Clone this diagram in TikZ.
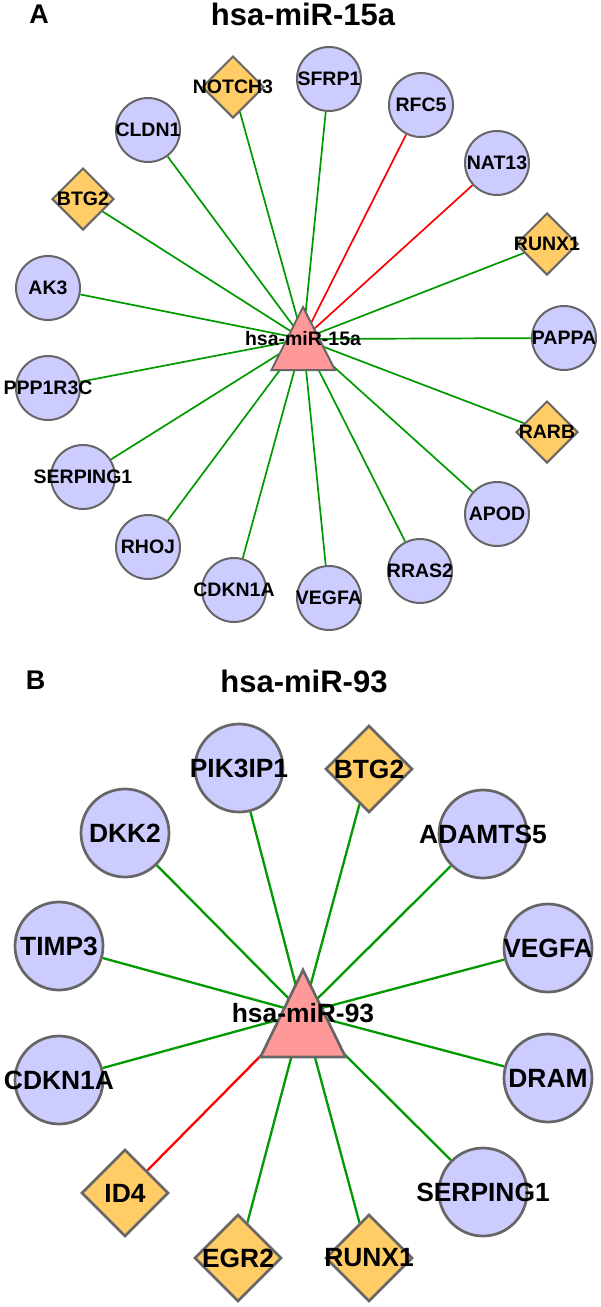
\documentclass[tikz,border=0pt]{standalone}
\usepackage{fontspec}
\setmainfont{Liberation Sans}
\usetikzlibrary{shapes.geometric,backgrounds}
\definecolor{egreen}{RGB}{0,153,0}
\definecolor{ered}{RGB}{255,0,0}
\definecolor{outl}{RGB}{102,102,102}
\definecolor{cfill}{RGB}{204,204,255}
\definecolor{dfill}{RGB}{255,204,102}
\definecolor{tfill}{RGB}{255,153,153}
\newcommand\zerow[1]{\makebox[0pt]{#1}}
\newcommand\fontA{\fontsize{19.5}{20}\selectfont\bfseries}
\newcommand\fontB{\fontsize{26.4}{27}\selectfont\bfseries}
\newcommand\fontT{\fontsize{31}{32}\selectfont\bfseries}
\newcommand\fontL{\fontsize{27}{28}\selectfont\bfseries}
\tikzset{
  circA/.style={circle, draw=outl, fill=cfill, line width=2pt, minimum size=64pt, inner sep=0pt, font=\fontA},
  diaA/.style={diamond, draw=outl, fill=dfill, line width=2pt, minimum width=62pt, minimum height=62pt, inner sep=0pt, font=\fontA},
  circB/.style={circle, draw=outl, fill=cfill, line width=2.7pt, minimum size=88pt, inner sep=0pt, font=\fontB},
  diaB/.style={diamond, draw=outl, fill=dfill, line width=2.7pt, minimum width=87pt, minimum height=87pt, inner sep=0pt, font=\fontB},
  gA/.style={draw=egreen, line width=1.7pt},
  rA/.style={draw=ered, line width=1.7pt},
  gB/.style={draw=egreen, line width=2.3pt},
  rB/.style={draw=ered, line width=2.3pt},
  triA/.style={fill=tfill, draw=outl, line width=2pt, line join=miter},
  triB/.style={fill=tfill, draw=outl, line width=2.7pt, line join=miter},
  ttl/.style={font=\fontT, inner sep=0pt},
  plbl/.style={font=\fontL, inner sep=0pt},
  clabA/.style={font=\fontA, inner sep=0pt},
  clabB/.style={font=\fontB, inner sep=0pt},
}
\begin{document}
\begin{tikzpicture}[x=1pt,y=-1pt]
\useasboundingbox (0,0) rectangle (600,1307);
% ---------- Panel A ----------
\node[plbl] (pA) at (39,14) {A};
\node[ttl] (tA) at (303,14) {hsa-miR-15a};
\coordinate (cA) at (303,339);
\node[circA] (a1) at (329,79) {\zerow{SFRP1}};
\node[circA] (a2) at (421,105) {\zerow{RFC5}};
\node[circA] (a3) at (497,163) {\zerow{NAT13}};
\node[diaA] (a4) at (547,244) {\zerow{RUNX1}};
\node[circA] (a5) at (564,338) {\zerow{PAPPA}};
\node[diaA] (a6) at (547,432) {\zerow{RARB}};
\node[circA] (a7) at (497,514) {\zerow{APOD}};
\node[circA] (a8) at (420,571) {\zerow{RRAS2}};
\node[circA] (a9) at (329,598) {\zerow{VEGFA}};
\node[circA] (a10) at (234,590) {\zerow{CDKN1A}};
\node[circA] (a11) at (148,547) {\zerow{RHOJ}};
\node[circA] (a12) at (83,477) {\zerow{SERPING1}};
\node[circA] (a13) at (48,388) {\zerow{PPP1R3C}};
\node[circA] (a14) at (48,288) {\zerow{AK3}};
\node[diaA] (a15) at (83,199) {\zerow{BTG2}};
\node[circA] (a16) at (148,130) {\zerow{CLDN1}};
\node[diaA] (a17) at (233,87) {\zerow{NOTCH3}};
\begin{scope}[on background layer]
  \draw[gA] (cA) -- (a1);
  \draw[rA] (cA) -- (a2);
  \draw[rA] (cA) -- (a3);
  \foreach \n in {a4,a5,a6,a7,a8,a9,a10,a11,a12,a13,a14,a15,a16,a17}
    \draw[gA] (cA) -- (\n);
\end{scope}
\path[triA] ([shift={(0,-32)}]cA) -- ([shift={(32,31)}]cA) -- ([shift={(-31.5,31)}]cA) -- cycle;
\node[clabA] (lA) at (cA) {hsa-miR-15a};
% ---------- Panel B ----------
\node[plbl] (pB) at (35.5,680) {B};
\node[ttl] (tB) at (304,681) {hsa-miR-93};
\coordinate (cB) at (303,1013);
\node[circB] (b1) at (239,768) {\zerow{PIK3IP1}};
\node[diaB] (b2) at (369,769) {\zerow{BTG2}};
\node[circB] (b3) at (483,834) {\zerow{ADAMTS5}};
\node[circB] (b4) at (548,948) {\zerow{VEGFA}};
\node[circB] (b5) at (548,1078) {\zerow{DRAM}};
\node[circB] (b6) at (483,1192) {\zerow{SERPING1}};
\node[diaB] (b7) at (369,1258) {\zerow{RUNX1}};
\node[diaB] (b8) at (238,1258) {\zerow{EGR2}};
\node[diaB] (b9) at (125,1193) {\zerow{ID4}};
\node[circB] (b10) at (59,1080) {\zerow{CDKN1A}};
\node[circB] (b11) at (59,946) {\zerow{TIMP3}};
\node[circB] (b12) at (125,833) {\zerow{DKK2}};
\begin{scope}[on background layer]
  \foreach \n in {b1,b2,b3,b4,b5,b6,b7,b8,b10,b11,b12}
    \draw[gB] (cB) -- (\n);
  \draw[rB] (cB) -- (b9);
\end{scope}
\path[triB] ([shift={(0,-43)}]cB) -- ([shift={(42.5,44)}]cB) -- ([shift={(-42.5,44)}]cB) -- cycle;
\node[clabB] (lB) at (cB) {hsa-miR-93};
\end{tikzpicture}
\end{document}
